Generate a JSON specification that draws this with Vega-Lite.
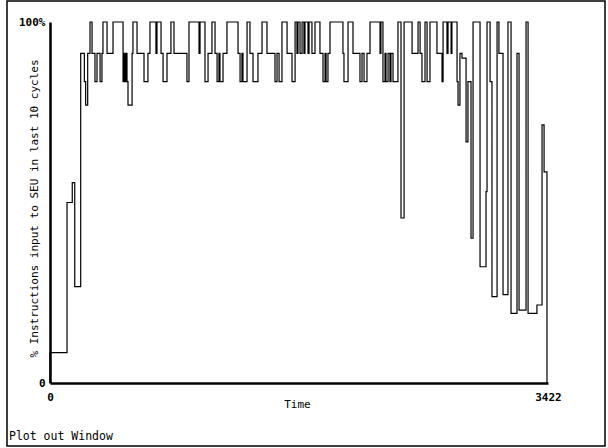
{
  "$schema": "https://vega.github.io/schema/vega-lite/v6.json",
  "width": 598,
  "height": 445,
  "autosize": {"type": "none"},
  "padding": {"left": 7, "top": 1, "right": 3, "bottom": 2},
  "background": "white",
  "title": {
    "text": "Plot out Window",
    "orient": "bottom",
    "anchor": "start",
    "frame": "group",
    "offset": -15,
    "dx": 2,
    "font": "DejaVu Sans Mono",
    "fontSize": 11.5,
    "fontWeight": "normal",
    "color": "black"
  },
  "config": {
    "view": {"stroke": "black", "strokeWidth": 1.5},
    "axis": {
      "domainColor": "black",
      "domainWidth": 2.5,
      "ticks": false,
      "grid": false,
      "labelFlush": false,
      "labelOverlap": false,
      "labelFont": "DejaVu Sans Mono",
      "labelFontSize": 11,
      "labelFontWeight": "bold",
      "labelColor": "black",
      "titleFont": "DejaVu Sans Mono",
      "titleFontSize": 11,
      "titleFontWeight": "normal",
      "titleColor": "black"
    }
  },
  "data": {
    "values": [
      {"t": 0, "v": 0}, {"t": 0, "v": 8.4}, {"t": 117, "v": 50}, {"t": 153, "v": 55.5}, {"t": 170, "v": 26.7},
      {"t": 211, "v": 91.3}, {"t": 236, "v": 83.5}, {"t": 245, "v": 77}, {"t": 259, "v": 91.3}, {"t": 275, "v": 100},
      {"t": 289, "v": 91.3}, {"t": 309, "v": 83.5}, {"t": 323, "v": 91.3}, {"t": 344, "v": 83.5}, {"t": 357, "v": 91.3},
      {"t": 364, "v": 100}, {"t": 392, "v": 91.3}, {"t": 433, "v": 100}, {"t": 502, "v": 83.5}, {"t": 509, "v": 91.3},
      {"t": 515, "v": 83.5}, {"t": 522, "v": 91.3}, {"t": 529, "v": 83.5}, {"t": 536, "v": 77}, {"t": 564, "v": 91.3},
      {"t": 570, "v": 100}, {"t": 598, "v": 91.3}, {"t": 646, "v": 83.5}, {"t": 673, "v": 91.3}, {"t": 687, "v": 100},
      {"t": 728, "v": 91.3}, {"t": 735, "v": 100}, {"t": 763, "v": 91.3}, {"t": 777, "v": 83.5}, {"t": 804, "v": 91.3},
      {"t": 831, "v": 100}, {"t": 852, "v": 91.3}, {"t": 941, "v": 83.5}, {"t": 955, "v": 100}, {"t": 1024, "v": 91.3},
      {"t": 1031, "v": 100}, {"t": 1065, "v": 83.5}, {"t": 1086, "v": 91.3}, {"t": 1113, "v": 100}, {"t": 1134, "v": 91.3},
      {"t": 1148, "v": 83.5}, {"t": 1161, "v": 91.3}, {"t": 1168, "v": 83.5}, {"t": 1189, "v": 91.3}, {"t": 1216, "v": 100},
      {"t": 1292, "v": 91.3}, {"t": 1306, "v": 83.5}, {"t": 1319, "v": 91.3}, {"t": 1326, "v": 83.5}, {"t": 1354, "v": 100},
      {"t": 1374, "v": 91.3}, {"t": 1395, "v": 83.5}, {"t": 1429, "v": 91.3}, {"t": 1457, "v": 100}, {"t": 1491, "v": 91.3},
      {"t": 1546, "v": 83.5}, {"t": 1560, "v": 91.3}, {"t": 1574, "v": 83.5}, {"t": 1594, "v": 100}, {"t": 1629, "v": 91.3},
      {"t": 1663, "v": 83.5}, {"t": 1684, "v": 100}, {"t": 1697, "v": 91.3}, {"t": 1704, "v": 100}, {"t": 1718, "v": 91.3},
      {"t": 1732, "v": 100}, {"t": 1745, "v": 91.3}, {"t": 1752, "v": 100}, {"t": 1773, "v": 91.3}, {"t": 1780, "v": 100},
      {"t": 1800, "v": 91.3}, {"t": 1821, "v": 100}, {"t": 1855, "v": 91.3}, {"t": 1876, "v": 83.5}, {"t": 1890, "v": 91.3},
      {"t": 1897, "v": 83.5}, {"t": 1910, "v": 91.3}, {"t": 1924, "v": 100}, {"t": 2013, "v": 91.3}, {"t": 2020, "v": 83.5},
      {"t": 2048, "v": 100}, {"t": 2082, "v": 91.3}, {"t": 2130, "v": 83.5}, {"t": 2144, "v": 91.3}, {"t": 2158, "v": 83.5},
      {"t": 2178, "v": 91.3}, {"t": 2199, "v": 100}, {"t": 2268, "v": 91.3}, {"t": 2274, "v": 100}, {"t": 2288, "v": 83.5},
      {"t": 2302, "v": 91.3}, {"t": 2309, "v": 83.5}, {"t": 2323, "v": 91.3}, {"t": 2336, "v": 83.5}, {"t": 2343, "v": 91.3},
      {"t": 2357, "v": 83.5}, {"t": 2391, "v": 100}, {"t": 2412, "v": 45.7}, {"t": 2433, "v": 100}, {"t": 2488, "v": 91.3},
      {"t": 2529, "v": 100}, {"t": 2543, "v": 91.3}, {"t": 2556, "v": 83.5}, {"t": 2577, "v": 100}, {"t": 2591, "v": 83.5},
      {"t": 2611, "v": 100}, {"t": 2659, "v": 91.3}, {"t": 2694, "v": 83.5}, {"t": 2701, "v": 100}, {"t": 2728, "v": 91.3},
      {"t": 2735, "v": 100}, {"t": 2756, "v": 91.3}, {"t": 2762, "v": 100}, {"t": 2797, "v": 83.5}, {"t": 2804, "v": 77},
      {"t": 2817, "v": 91.3}, {"t": 2831, "v": 90}, {"t": 2859, "v": 66.8}, {"t": 2872, "v": 83.5}, {"t": 2893, "v": 40.1},
      {"t": 2907, "v": 100}, {"t": 2955, "v": 32.2}, {"t": 2996, "v": 53}, {"t": 3003, "v": 100}, {"t": 3024, "v": 83.5},
      {"t": 3037, "v": 23.9}, {"t": 3072, "v": 100}, {"t": 3085, "v": 91.3}, {"t": 3113, "v": 24.5}, {"t": 3147, "v": 100},
      {"t": 3168, "v": 19.3}, {"t": 3209, "v": 91.3}, {"t": 3223, "v": 20.2}, {"t": 3271, "v": 100}, {"t": 3285, "v": 19.3},
      {"t": 3346, "v": 21.6}, {"t": 3381, "v": 71.5}, {"t": 3395, "v": 58.5}, {"t": 3415, "v": 0}, {"t": 3422, "v": 0}
    ]
  },
  "mark": {"type": "line", "interpolate": "step-after", "color": "black", "strokeWidth": 1.2},
  "encoding": {
    "x": {
      "field": "t",
      "type": "quantitative",
      "scale": {"domain": [0, 3422], "range": [43, 541], "nice": false, "zero": false},
      "axis": {
        "values": [0, 3422],
        "format": "d",
        "offset": -63,
        "labelPadding": 8,
        "labelDx": 3,
        "labelAlign": "center",
        "title": "Time",
        "titleX": 290,
        "titleY": 21,
        "titleBaseline": "middle"
      }
    },
    "y": {
      "field": "v",
      "type": "quantitative",
      "scale": {"domain": [0, 100], "range": [382, 21], "nice": false},
      "axis": {
        "values": [0, 100],
        "offset": -43,
        "labelPadding": 5,
        "labelBaseline": "middle",
        "labelExpr": "datum.value == 100 ? '100%' : '0'",
        "title": "% Instructions input to SEU in last 10 cycles",
        "titleX": -16,
        "titleY": 207,
        "titleAngle": -90,
        "titleBaseline": "middle",
        "titleAlign": "center"
      }
    }
  }
}
